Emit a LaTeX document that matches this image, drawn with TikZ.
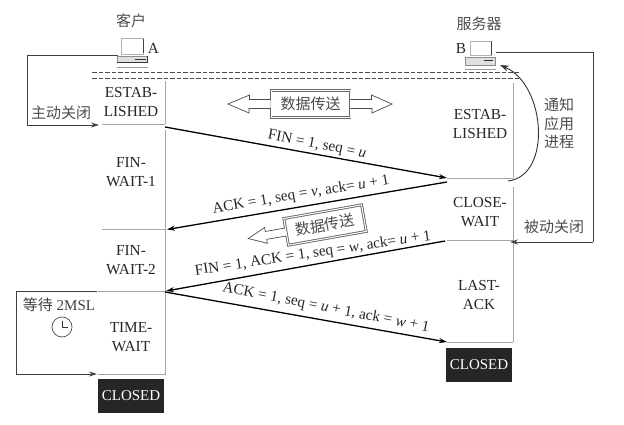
\documentclass[tikz,border=0pt]{standalone}
\usepackage{fontspec}
\setmainfont{Liberation Serif}
\newfontfamily\cjk{Noto Sans CJK SC}[Scale=1]
\usetikzlibrary{arrows.meta,calc}
\tikzset{
  lbl/.style={inner sep=0pt,font=\fontsize{15.3}{19}\selectfont,align=center,text=black!85},
  msg/.style={inner sep=0pt,font=\fontsize{15.2}{16}\selectfont,text=black!85},
  cn/.style={inner sep=0pt,font=\fontsize{15}{18.5}\selectfont\cjk,align=center,text=black!70},
  closedbox/.style={fill=black!85,text=white,inner sep=0pt,minimum width=66pt,minimum height=34pt,font=\fontsize{15}{16}\selectfont},
  databox/.style={draw=black!60,double=white,double distance=1pt,line width=.9pt,fill=white,inner sep=0pt,minimum width=79pt,minimum height=27pt,font=\fontsize{15}{16}\selectfont\cjk,text=black!70},
  timeline/.style={draw=black!35,line width=.8pt},
  statel/.style={draw=black!35,line width=.8pt},
  wire/.style={draw=black!75,line width=.8pt},
  wirearrow/.style={wire,-{Stealth[length=8pt,width=5pt]}},
  msgarrow/.style={draw=black,line width=1.3pt,-{Stealth[length=8pt,width=5pt]}},
  hollow/.style={draw=black!70,line width=.7pt,fill=white,line join=miter},
  dashrule/.style={draw=black!70,line width=.8pt,dash pattern=on 4.5pt off 2pt},
  mon/.style={draw=black!30,line width=.7pt,fill=white},
  monside/.style={draw=black!75,line width=.9pt},
  base/.style={draw=black!45,line width=.6pt,fill=black!12},
}
\begin{document}
\begin{tikzpicture}[x=1pt,y=-1pt]
\useasboundingbox (0,0) rectangle (624,425);
% named points
\coordinate (Ltop) at (165,81); \coordinate (Lb1) at (165,124);
\coordinate (Lb1b) at (165,130); \coordinate (Lbot) at (165,375);
\coordinate (Rtop) at (513,83); \coordinate (Rb1) at (513,178);
\coordinate (Rb1b) at (513,187); \coordinate (Rbot) at (513,342);
\coordinate (La) at (102,124); \coordinate (Lc) at (102,229.5); \coordinate (Lcr) at (165,229.5);
\coordinate (Ld) at (98,291); \coordinate (Ldr) at (165,291);
\coordinate (Le) at (98,374); \coordinate (Ler) at (165,374);
\coordinate (Ra) at (447,178); \coordinate (Rar) at (513,178);
\coordinate (Rc) at (447,240); \coordinate (Rcr) at (513,240);
\coordinate (Rd) at (447,342);
\coordinate (d1a) at (92,72); \coordinate (d1b) at (520,72);
\coordinate (d2a) at (92,78); \coordinate (d2b) at (520,78);
\coordinate (m1s) at (165,127); \coordinate (m1e) at (447,178);
\coordinate (m2s) at (447,182); \coordinate (m2e) at (167,229.5);
\coordinate (m3s) at (445,241); \coordinate (m3e) at (166,291);
\coordinate (m4s) at (165,292); \coordinate (m4e) at (447,342);
\coordinate (aS) at (118,55); \coordinate (aC1) at (27,55); \coordinate (aC2) at (27,125); \coordinate (aE) at (99,125);
\coordinate (tS) at (97,291); \coordinate (tC1) at (16,291); \coordinate (tC2) at (16,374); \coordinate (tE) at (97,374);
\coordinate (bS) at (496,52); \coordinate (bC1) at (593,52); \coordinate (bC2) at (593,242); \coordinate (bE) at (510,242);
\coordinate (nS) at (508,181); \coordinate (nE) at (500,65);
% rules
\draw[dashrule] (d1a) -- (d1b);
\draw[dashrule] (d2a) -- (d2b);
% timelines
\draw[timeline] (Ltop) -- (Lb1);
\draw[timeline] (Lb1b) -- (Lbot);
\draw[timeline] (Rtop) -- (Rb1);
\draw[timeline] (Rb1b) -- (Rbot);
\draw[statel] (La) -- (Lb1);
\draw[statel] (Lc) -- (Lcr);
\draw[statel] (Ld) -- (Ldr);
\draw[statel] (Le) -- (Ler);
\draw[statel] (Ra) -- (Rar);
\draw[statel] (Rc) -- (Rcr);
\draw[statel] (Rd) -- (Rbot);
% computers
\draw[mon] (121,38) rectangle (143,54);
\draw[monside] (143,39) -- (143,53);
\draw[base] (117,56) rectangle (147,62);
\draw[black!80,line width=.9pt] (135,59) -- (146,59) (147,56) -- (147,62) -- (117,62);
\draw[black!40,line width=1.5pt] (117,67.5) -- (148,67.5);
\draw[mon] (470,41) rectangle (491,55);
\draw[monside] (491,41) -- (491,55);
\draw[base] (465,57) rectangle (495,65);
\draw[black!80,line width=.9pt] (484,60) -- (493,60);
\draw[black!40,line width=1.5pt] (465,69.5) -- (496,69.5);
% titles
\node[cn] (kehu) at (131,21) {客户};
\node[cn] (fuwu) at (479,24) {服务器};
\node[lbl] (A) at (153.5,48) {A};
\node[lbl] (B) at (461,49) {B};
% states
\node[lbl] (s1) at (131,102) {ESTAB-\\LISHED};
\node[lbl] (s2) at (131,172) {FIN-\\WAIT-1};
\node[lbl] (s3) at (131,260) {FIN-\\WAIT-2};
\node[lbl] (s4) at (131,337) {TIME-\\WAIT};
\node[closedbox] (c1) at (131,396) {CLOSED};
\node[lbl] (r1) at (480,124.5) {ESTAB-\\LISHED};
\node[lbl] (r2) at (480,212) {CLOSE-\\WAIT};
\node[lbl] (r3) at (479,295) {LAST-\\ACK};
\node[closedbox] (c2) at (479,364.5) {CLOSED};
% side labels
\node[cn] (zd) at (61,113) {主动关闭};
\node[cn] (bd) at (554,227) {被动关闭};
\node[cn] (tz) at (559,123.5) {通知\\应用\\进程};
\node[inner sep=0pt,font=\fontsize{15}{16}\selectfont,text=black!75] (wait) at (59,305) {{\cjk 等待} 2MSL};
\node[draw=black!70,circle,line width=.7pt,minimum size=20pt,inner sep=0pt] (clock) at (62,327) {};
\draw[black!80,line width=.8pt] (clock.center) -- ++(0,-6);
\draw[black!80,line width=.8pt] (clock.center) -- ++(5.5,0);
% connectors
\draw[wire,line join=miter] (aS) -- (aC1) -- (aC2);
\draw[wirearrow] (aC2) -- (aE);
\draw[wire] (tS) -- (tC1) -- (tC2);
\draw[wirearrow] (tC2) -- (tE);
\draw[wire] (bS) -- (bC1) -- (bC2);
\draw[wirearrow] (bC2) -- (bE);
\draw[draw=black!80,line width=.9pt,-{Stealth[length=9pt,width=6pt]}] (nS) .. controls (552,176) and (546,85) .. (nE);
% messages
\draw[msgarrow] (m1s) -- (m1e);
\draw[msgarrow] (m2s) -- (m2e);
\draw[msgarrow] (m3s) -- (m3e);
\draw[msgarrow] (m4s) -- (m4e);
\node[msg,rotate=-11] (t1) at (317,145) {FIN = 1, seq = \textit{u}};
\node[msg,rotate=9.5] (t2) at (301,195) {ACK = 1, seq = \textit{v}, ack= \textit{u} + 1};
\node[msg,rotate=8.5] (t3) at (313,254) {FIN = 1, ACK = 1, seq = \textit{w}, ack= \textit{u} + 1};
\node[msg,rotate=-11] (t4) at (326,308) {ACK = 1, seq = \textit{u} + 1, ack = \textit{w} + 1};
% data boxes
\node[databox] (d1) at (310.5,104) {数据传送};
\draw[hollow] ($(d1.west)+(0,-4.5)$) -- ++(-21,0) -- ++(0,-4.5) -- (228,104) -- (249,113) -- ++(0,-4.5) -- ($(d1.west)+(0,4.5)$);
\draw[hollow] ($(d1.east)+(0,-4.5)$) -- ++(21,0) -- ++(0,-4.5) -- (392,104) -- (372,113) -- ++(0,-4.5) -- ($(d1.east)+(0,4.5)$);
\node[databox,rotate=10] (d2) at (325,225) {数据传送};
\begin{scope}[rotate around={10:(d2.west)}]
\draw[hollow] ($(d2.west)+(0,-4)$) -- ++(-20,0) -- ++(0,-4) -- ++(-18,8) -- ++(18,8) -- ++(0,-4) -- ($(d2.west)+(0,4)$);
\end{scope}
\end{tikzpicture}
\end{document}
